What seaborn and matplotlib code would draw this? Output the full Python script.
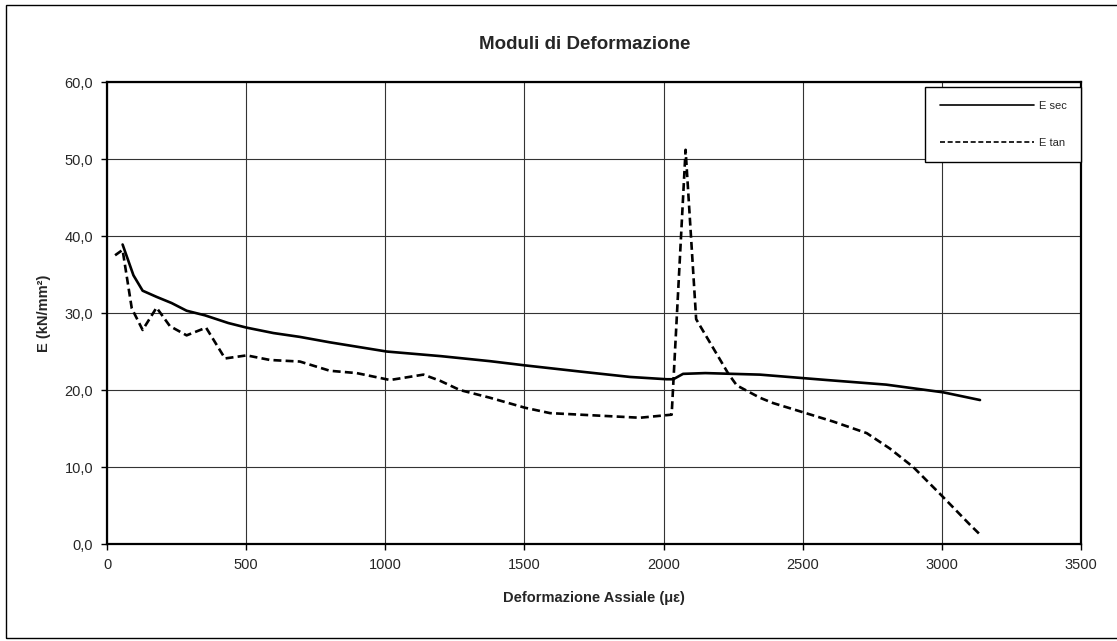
"""Moduli di deformazione: E secante e E tangente vs deformazione assiale
"""
import pandas as pd
import seaborn as sns
import matplotlib.pyplot as plt
from matplotlib.patches import Rectangle

sns.set_style("white")
plt.rcParams["font.family"] = ["Liberation Sans", "DejaVu Sans"]

# E secante (solid)
strain_sec = [56, 95, 128, 178, 232, 286, 352, 436, 502, 598, 693, 800, 1005,
              1200, 1376, 1502, 1700, 1879, 2011, 2035, 2070, 2150, 2346, 2586,
              2800, 3005, 3137]
e_sec = [38.9, 34.9, 32.9, 32.1, 31.3, 30.3, 29.7, 28.7, 28.1, 27.4, 26.9, 26.2,
         25.0, 24.4, 23.75, 23.2, 22.4, 21.7, 21.4, 21.4, 22.1, 22.2, 22.0, 21.3,
         20.7, 19.7, 18.7]

# E tangente (dashed)
strain_tan = [29, 56, 89, 128, 178, 226, 286, 356, 424, 502, 586, 693, 801, 897,
              1017, 1137, 1197, 1268, 1376, 1502, 1592, 1700, 1915, 2029, 2079,
              2117, 2233, 2263, 2346, 2394, 2502, 2610, 2730, 2813, 2897, 2999,
              3101, 3135]
e_tan = [37.5, 38.2, 30.6, 27.8, 30.7, 28.3, 27.1, 28.1, 24.1, 24.5, 23.9, 23.7,
         22.5, 22.2, 21.3, 22.0, 21.2, 20.0, 19.0, 17.7, 17.0, 16.8, 16.4, 16.8,
         51.2, 29.2, 22.1, 20.6, 19.0, 18.3, 17.1, 15.9, 14.4, 12.4, 10.0, 6.3,
         2.5, 1.3]

df = pd.concat([
    pd.DataFrame(dict(strain=strain_sec, E=e_sec, serie="E sec")),
    pd.DataFrame(dict(strain=strain_tan, E=e_tan, serie="E tan")),
], ignore_index=True)

fig = plt.figure(figsize=(11.17, 6.41), dpi=100)
ax = fig.add_axes([0.0958, 0.1513, 0.872, 0.7207])

sns.lineplot(data=df, x="strain", y="E", hue="serie", style="serie",
             hue_order=["E sec", "E tan"], style_order=["E sec", "E tan"],
             palette=dict(zip(["E sec", "E tan"], ["k", "k"])),
             dashes={"E sec": "", "E tan": (3, 1.6)},
             estimator=None, sort=False, linewidth=1.9, ax=ax)

comma = lambda v, pos: f"{v:.1f}".replace(".", ",")
ax.set_xlim(0, 3500)
ax.set_ylim(0, 60)
ax.xaxis.set_major_locator(plt.MultipleLocator(500))
ax.yaxis.set(major_locator=plt.MultipleLocator(10),
             major_formatter=plt.FuncFormatter(comma))
ax.grid(True, color="0.2", linewidth=0.8)
ax.tick_params(axis="both", labelsize=10.5, direction="out", length=4,
               width=1, color="k", left=True, bottom=True, pad=6)
for sp in ax.spines.values():
    sp.set_visible(True)
    sp.set_color("k")
    sp.set_linewidth(1.6)

ax.set_xlabel("Deformazione Assiale (\u03bc\u03b5)", fontsize=10.5,
              fontweight="bold", labelpad=14)
ax.set_ylabel("E (kN/mm\u00b2)", fontsize=10.5, fontweight="bold", labelpad=10)
fig.text(0.523, 0.93, "Moduli di Deformazione", ha="center", va="center",
         fontsize=13.5, fontweight="bold")

leg = ax.legend(loc="upper right", bbox_to_anchor=(1.0, 0.99), fontsize=8,
                frameon=True, fancybox=False, framealpha=1, edgecolor="k",
                handlelength=8.5, handletextpad=0.4, labelspacing=2.4,
                borderpad=1.3, borderaxespad=0, title=None)
leg.get_frame().set_linewidth(1.0)
for h in leg.get_lines():
    h.set_linewidth(1.2)

fig.patches.append(Rectangle((0.005, 0.004), 1.0, 0.988, transform=fig.transFigure,
                             fill=False, edgecolor="k", linewidth=1.0))

plt.savefig("out.png", dpi=100)
plt.close()
